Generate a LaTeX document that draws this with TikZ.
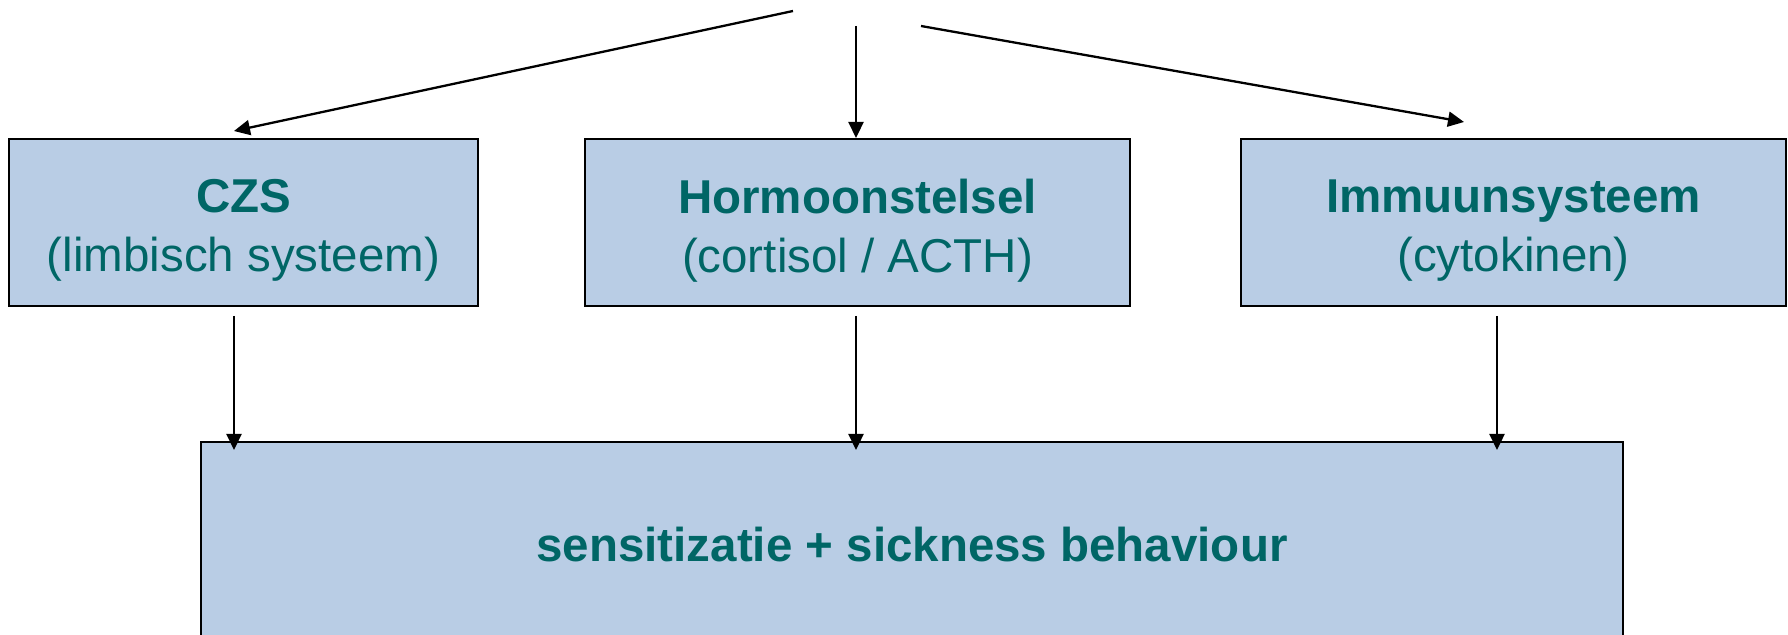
\documentclass[tikz,border=0pt]{standalone}
\usepackage{fontspec}
\setmainfont{Liberation Sans}
\usetikzlibrary{arrows.meta,calc}
\definecolor{boxfill}{HTML}{B9CDE5}
\definecolor{txt}{HTML}{006666}
\begin{document}
\begin{tikzpicture}[x=0.5pt,y=-0.5pt,
  box/.style={draw=black, line width=1pt, fill=boxfill, inner sep=0pt},
  lbl/.style={inner sep=0pt, text=txt, align=center, font=\fontsize{23.75}{29.5}\selectfont},
  arr/.style={line width=1.15pt, -{Triangle[length=8pt,width=7.5pt]}}]
\useasboundingbox (0,0) rectangle (1788,635);
\node[box, minimum width=234.5pt, minimum height=83.5pt] (czs) at (243.5,222.5) {};
\node[box, minimum width=272.5pt, minimum height=83.5pt] (horm) at (857.5,222.5) {};
\node[box, minimum width=272.5pt, minimum height=83.5pt] (imm) at (1513.5,222.5) {};
\node[box, minimum width=711pt, minimum height=103pt] (bot) at (912,545) {};
\node[lbl] (czst) at ([yshift=-4pt]czs.center) {\textbf{CZS}\\(limbisch systeem)};
\node[lbl] (hormt) at ([yshift=-4pt]horm.center) {\textbf{Hormoonstelsel}\\(cortisol / ACTH)};
\node[lbl] (immt) at ([yshift=-4pt]imm.center) {\textbf{Immuunsysteem}\\(cytokinen)};
\node[lbl] (bott) at (bot.center) {\textbf{sensitizatie + sickness behaviour}};
\coordinate (srcL) at (793,11);
\coordinate (srcM) at (856,26);
\coordinate (srcR) at (921,26);
\coordinate (endL) at (234,131);
\coordinate (endR) at (1464,122);
\draw[arr] (srcL) -- (endL);
\draw[arr] (srcM) -- (srcM |- horm.north);
\draw[arr] (srcR) -- (endR);
\draw[arr] ([shift={(-9.5,9)}]czs.south) -- ([shift={(-9.5,9)}]czs.south |- bot.north);
\draw[arr] ([shift={(-1.5,9)}]horm.south) -- ([shift={(-1.5,9)}]horm.south |- bot.north);
\draw[arr] ([shift={(-16.5,9)}]imm.south) -- ([shift={(-16.5,9)}]imm.south |- bot.north);
\end{tikzpicture}
\end{document}
